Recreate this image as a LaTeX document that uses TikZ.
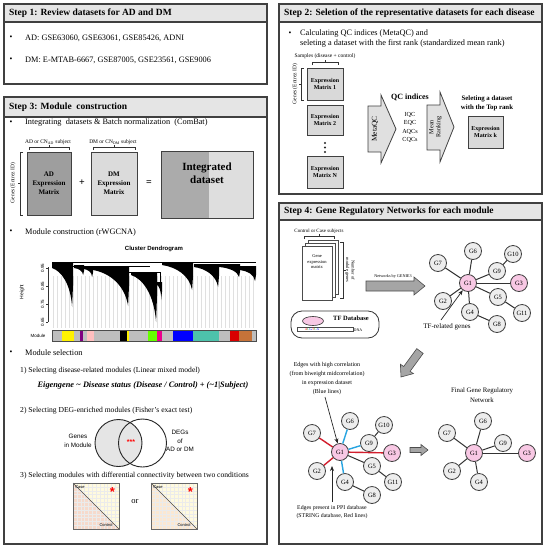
\documentclass[tikz,border=0pt]{standalone}
\usepackage{fontspec}
\setmainfont{Liberation Serif}
\setsansfont{Liberation Sans}
\usetikzlibrary{arrows.meta,calc}
\definecolor{tfpink}{RGB}{248,200,228}
\definecolor{eblue}{RGB}{40,165,225}
\definecolor{ered}{RGB}{210,30,45}
\definecolor{arrgrey}{RGB}{165,165,165}
\definecolor{hmcream}{RGB}{255,250,222}
\definecolor{hmpink}{RGB}{246,218,204}
\definecolor{hmpeach}{RGB}{251,232,210}
\definecolor{dgrey}{RGB}{190,190,190}
\begin{document}
\begin{tikzpicture}[x=1pt,y=-1pt,
 panel/.style={draw=black!75,line width=1.1pt},
 tbar/.style={draw=black!75,line width=1.1pt,fill=black!10},
 ttl/.style={anchor=west,font=\fontsize{9.5}{11}\selectfont\bfseries,inner sep=0pt},
 txt/.style={anchor=west,font=\fontsize{8.3}{10}\selectfont,inner sep=0pt},
 bul/.style={font=\fontsize{8}{10}\selectfont,inner sep=0pt},
 small/.style={font=\fontsize{5.5}{6.5}\selectfont,inner sep=0pt,align=center},
 tiny/.style={font=\fontsize{4.5}{5.5}\selectfont,inner sep=0pt,align=center},
 mat/.style={draw=black!75,line width=0.8pt,fill=black!15,align=center,font=\fontsize{6}{6.5}\selectfont\bfseries,inner sep=0pt},
 gn/.style={circle,draw=black!75,fill=black!7,line width=0.8pt,minimum size=17pt,inner sep=0pt,font=\fontsize{6.5}{7}\selectfont},
 tf/.style={gn,fill=tfpink},
 ed/.style={draw=black!80,line width=1pt},
 edr/.style={draw=ered,line width=1.4pt},
 edb/.style={draw=eblue,line width=1.4pt},
 blk/.style={fill=arrgrey,draw=black!70,line width=0.6pt},
 bigarrow/.style={fill=black!12,draw=black!75,line width=0.8pt},
 brk/.style={draw=black!80,line width=0.5pt},
 ptr/.style={draw=black!85,line width=0.7pt,-{Stealth[length=5pt,width=4pt]}},
]
\useasboundingbox (0,0) rectangle (547,550);
\fill[white] (0,0) rectangle (547,550);

% ================= Step 1 =================
\draw[panel] (4,4) rectangle (267,84);
\draw[tbar] (4,4) rectangle (267,22);
\node[ttl] (t1) at (9,13.5) {Step 1: Review datasets for AD and DM};
\node[bul] (b1a) at (11,38) {\textbullet};
\node[txt] (s1a) at (25,38) {AD: GSE63060, GSE63061, GSE85426, ADNI};
\node[bul] (b1b) at (11,60) {\textbullet};
\node[txt] (s1b) at (25,60) {DM: E-MTAB-6667, GSE87005, GSE23561, GSE9006};

% ================= Step 2 =================
\draw[panel] (279,4) rectangle (542,194);
\draw[tbar] (279,4) rectangle (542,22);
\node[ttl] (t2) at (284,13.5) {Step 2: Seletion of the representative datasets for each disease};
\node[bul] (b2a) at (290,34) {\textbullet};
\node[txt] (s2a) at (300,34) {Calculating QC indices (MetaQC) and};
\node[txt] (s2b) at (300,43) {seleting a dataset with the first rank (standardized mean rank)};
\node[small] (smp) at (325,56) {Samples (disease + control)};
\draw[brk] (312,65) -- (312,62) -- (338,62) -- (338,65);
\draw[brk] (325,62) -- (325,59.5);
\node[small,rotate=90] (gen2) at (295,84) {Genes (Entrez ID)};
\draw[brk] (304,68) -- (301,68) -- (301,100) -- (304,100);
\draw[brk] (301,84) -- (298.5,84);
\node[mat,minimum width=36pt,minimum height=32pt] (m1) at (325,84) {Expression\\Matrix 1};
\node[mat,minimum width=36pt,minimum height=30pt] (m2) at (325,120) {Expression\\Matrix 2};
\foreach \dy in {143,147.5,152}{
  \fill[black!85] (325,\dy) circle[radius=1.2pt];
}
\node[mat,minimum width=36pt,minimum height=32pt] (mn) at (325,172) {Expression\\Matrix N};
% MetaQC arrow
\draw[bigarrow] (368,106) -- (381,106) -- (381,95) -- (396,129) -- (381,163) -- (381,152) -- (368,152) -- cycle;
\node[rotate=90,font=\fontsize{7.5}{8}\selectfont,inner sep=0pt] (mqc) at (375,129) {MetaQC};
\node[font=\fontsize{8}{9}\selectfont\bfseries,inner sep=0pt] (qci) at (410,97) {QC indices};
\node[font=\fontsize{6.2}{8.4}\selectfont,align=center,inner sep=0pt] (qcl) at (410,127.5) {IQC\\EQC\\AQCs\\CQCs};
% Mean ranking arrow
\draw[bigarrow] (427,105) -- (440,105) -- (440,92) -- (454,127) -- (440,162) -- (440,150) -- (427,150) -- cycle;
\node[rotate=90,font=\fontsize{6.2}{7}\selectfont,align=center,inner sep=0pt] (mrk) at (435.5,127) {Mean\\Ranking};
\node[font=\fontsize{6.8}{9}\selectfont\bfseries,align=center,inner sep=0pt] (sel) at (487,103.5) {Seleting a dataset\\with the Top rank};
\node[mat,minimum width=35pt,minimum height=32pt] (mk) at (485.5,132) {Expression\\Matrix k};

% ================= Step 3 =================
\draw[panel] (4,97) rectangle (267,544);
\draw[tbar] (4,97) rectangle (267,117);
\node[ttl] (t3) at (9,107) {Step 3: Module\ \ construction};
\node[bul] (b3a) at (11,122.5) {\textbullet};
\node[txt] (s3a) at (25,122.5) {Integrating\ \ datasets \& Batch normalization\ \ (ComBat)};
\node[small] (adsub) at (48,142) {AD or CN$_{\mathrm{AD}}$ subject};
\node[small] (dmsub) at (113,142) {DM or CN$_{\mathrm{DM}}$ subject};
\draw[brk] (29,150) -- (29,147) -- (69,147) -- (69,150);
\draw[brk] (49,147) -- (49,144.5);
\draw[brk] (93,150) -- (93,147) -- (135,147) -- (135,150);
\draw[brk] (114,147) -- (114,144.5);
\node[small,rotate=90] (gen3) at (13,183) {Genes (Entrez ID)};
\draw[brk] (23,152) -- (20,152) -- (20,215) -- (23,215);
\draw[brk] (20,183) -- (17.5,183);
\node[mat,fill=black!38,minimum width=44pt,minimum height=63pt,font=\fontsize{7}{9}\selectfont\bfseries] (adm) at (49,183.5) {AD\\Expression\\Matrix};
\node[mat,fill=black!14,minimum width=46pt,minimum height=63pt,font=\fontsize{7}{9}\selectfont\bfseries] (dmm) at (114,183.5) {DM\\Expression\\Matrix};
\node[font=\fontsize{10}{10}\selectfont\bfseries,inner sep=0pt] (plus) at (82,183) {+};
\node[font=\fontsize{10}{10}\selectfont\bfseries,inner sep=0pt] (eq) at (149,183) {=};
\fill[black!33] (161,151) rectangle (209,218);
\fill[black!13] (209,151) rectangle (253,218);
\draw[draw=black!75,line width=0.8pt] (161,151) rectangle (253,218);
\node[font=\fontsize{11}{12.5}\selectfont\bfseries,align=center,inner sep=0pt] (intd) at (207,173) {Integrated\\dataset};

\node[bul] (b3b) at (11,232) {\textbullet};
\node[txt] (s3b) at (25,232) {Module construction (rWGCNA)};
\node[font=\sffamily\bfseries\fontsize{6}{7}\selectfont,inner sep=0pt] (cdt) at (154,249) {Cluster Dendrogram};
% axis
\draw[black!80,line width=0.4pt] (48,267) -- (48,322);
\foreach \ty/\lab in {268/0.95,286/0.85,304/0.75,322/0.65}{
  \draw[black!80,line width=0.4pt] (48,\ty) -- (46,\ty);
  \node[rotate=90,font=\sffamily\fontsize{4.5}{5}\selectfont,inner sep=0pt] at (42.5,\ty) {\lab};
}
\node[rotate=90,font=\sffamily\fontsize{5}{5}\selectfont,inner sep=0pt] (hgt) at (22,292) {Height};
% faint leaf lines (translucent strips)
\begin{scope}[opacity=0.12]
\foreach \k in {0,...,50}{
  \fill[black] ({53+\k*4},276) rectangle ({53.8+\k*4},328);
}
\end{scope}
% dendrogram clusters
\draw[line width=0.5pt] (52,262) -- (256,262);
\foreach \xa/\xb/\yt/\ya/\yb in {52/73/263/268/307, 74/84/265/268/275, 84/93/266/269/277, 93/129/266/270/306, 131/157/272/275/322, 157/162/282/285/300, 162/193/262/265/290, 194/219/264/267/287, 219/240/264/267/277, 240/256/266/270/281}{
  \pgfmathsetmacro\ww{\xb-\xa}
  \pgfmathsetmacro\hh{\yb-\ya}
  \fill[black] (\xa,\yt) -- (\xb,\yt) -- (\xb,{\ya+0.45*\hh}) -- ({\xb-0.9},\yb)
     .. controls ({\xb-0.12*\ww},{\ya+0.4*\hh}) and ({\xa+0.45*\ww},{\ya+0.08*\hh}) .. (\xa,\ya) -- cycle;
  \draw[line width=0.5pt] (\xa,\yt) -- (\xb,\yt);
}
\draw[line width=0.5pt] (60,266) -- (150,266);
\draw[line width=0.5pt] (128,272) -- (160,272) -- (160,282);
% module colour bar
\node[font=\sffamily\fontsize{4.5}{5}\selectfont,inner sep=0pt] (modl) at (38,336) {Module};
\fill[dgrey] (52,330) rectangle (256,341);
\foreach \xa/\xb/\cc in {62/74/yellow, 80/83/violet, 87/94/pink, 120/127/black, 127/129/yellow, 148/157/green!60!yellow, 157/162/magenta, 173/193/blue, 193/219/cyan!45!green!70!white, 230/239/red!85!black, 239/252/brown!90!red}{
  \fill[\cc] (\xa,330) rectangle (\xb,341);
}
\draw[black!70,line width=0.3pt] (52,330) rectangle (256,341);

\node[bul] (b3c) at (11,353) {\textbullet};
\node[txt] (s3c) at (25,353) {Module selection};
\node[txt,font=\fontsize{7.6}{9}\selectfont] (s3d) at (20,371) {1) Selecting disease-related modules (Linear mixed model)};
\node[font=\fontsize{8.3}{10}\selectfont\bfseries\itshape,inner sep=0pt] (eqn) at (143,386) {Eigengene \textasciitilde{} Disease status (Disease / Control) + (\textasciitilde{}1|Subject)};
\node[txt,font=\fontsize{7.6}{9}\selectfont] (s3e) at (20,411) {2) Selecting DEG-enriched modules (Fisher's exact test)};
% Venn
\draw[fill=black!10,draw=black!85,line width=0.9pt] (118.5,443) circle[radius=23.5pt];
\draw[draw=black!85,line width=0.9pt] (142.5,443) circle[radius=24pt];
\node[font=\sffamily\bfseries\fontsize{7}{7}\selectfont,text=red,inner sep=0pt] (stars) at (131,442) {***};
\node[font=\sffamily\fontsize{6.3}{8.8}\selectfont,align=center,inner sep=0pt] (gim) at (78,440.5) {Genes\\in Module};
\node[font=\sffamily\fontsize{6.3}{8.8}\selectfont,align=center,inner sep=0pt] (degs) at (180,441) {DEGs\\of\\AD or DM};
\node[txt,font=\fontsize{7.6}{9}\selectfont] (s3f) at (20,476) {3) Selecting modules with differential connectivity between two conditions};
% heatmaps
\foreach \hx/\lc/\nm in {73/hmpink/hl, 151/hmpeach/hr}{
  \fill[hmcream] (\hx,483) rectangle ++(46,46);
  \fill[\lc] (\hx,483) -- (\hx,529) -- ({\hx+46},529) -- cycle;
  \foreach \g in {1,...,11}{
    \draw[black!8,line width=0.2pt] ({\hx+\g*3.83},483) -- ({\hx+\g*3.83},529);
    \draw[black!8,line width=0.2pt] (\hx,{483+\g*3.83}) -- ({\hx+46},{483+\g*3.83});
  }
  \draw[black!70,line width=0.6pt] (\hx,483) -- ({\hx+46},529);
  \draw[black!60,line width=0.5pt] (\hx,483) rectangle ++(46,46);
  \node[font=\sffamily\fontsize{4}{4}\selectfont,inner sep=0pt] at ({\hx+7},487) {Case};
  \node[font=\sffamily\fontsize{4}{4}\selectfont,inner sep=0pt] at ({\hx+33},525) {Control};
  \node[font=\sffamily\bfseries\fontsize{13}{13}\selectfont,text=red,inner sep=0pt] at ({\hx+39.5},492.5) {*};
}
\node[font=\fontsize{8.5}{9}\selectfont,inner sep=0pt] (or) at (135,502) {or};

% ================= Step 4 =================
\draw[panel] (279,203) rectangle (542,544);
\draw[tbar] (279,203) rectangle (542,220);
\node[ttl] (t4) at (284,211.5) {Step 4: Gene Regulatory Networks for each module};
\node[tiny,font=\fontsize{5}{6}\selectfont] (ccs) at (319,231) {Control or Case subjects};
\draw[brk] (304,239) -- (304,236) -- (334,236) -- (334,239);
\draw[brk] (319,236) -- (319,234);
\draw[black!70,line width=0.5pt,fill=white] (308,240) rectangle (338,294);
\draw[black!70,line width=0.5pt,fill=white] (305,243) rectangle (335,297);
\draw[black!70,line width=0.5pt,fill=white] (302,246) rectangle (332,300);
\node[tiny] (gem) at (317,262) {Gene\\expression\\matrix};
\draw[brk] (340,242) -- (343,242) -- (343,298) -- (340,298);
\draw[brk] (343,270) -- (345.5,270);
\node[tiny,rotate=-90,align=center] (nmg) at (350,270) {Number of\\module genes};
% GENIE3 arrow
\draw[blk] (366,281) -- (414,281) -- (414,277) -- (425,286) -- (414,295) -- (414,291) -- (366,291) -- cycle;
\node[tiny,font=\fontsize{4.2}{5}\selectfont] (gen3a) at (393,276) {Networks by GENIE3};
% TF database
\draw[black!80,line width=0.8pt,rounded corners=11pt] (291,311) rectangle (379,338);
\draw[black!80,line width=0.6pt,fill=tfpink] (313,321) ellipse[x radius=10.5pt,y radius=4.5pt];
\node[font=\fontsize{6.5}{7}\selectfont\bfseries,inner sep=0pt] (tfd) at (351,318) {TF Database};
\draw[black!70,line width=0.4pt] (297,327) rectangle (353,331.5);
\node[font=\fontsize{3.5}{4}\selectfont,inner sep=0pt] (acgt) at (312,329.3) {\textcolor{red}{A}\textcolor{green!60!black}{C}\textcolor{blue}{G}\textcolor{red}{T}\textcolor{green!60!black}{C}\textcolor{blue}{A}};
\node[font=\fontsize{4}{4}\selectfont,inner sep=0pt] (dna) at (358,330) {DNA};

% network 1
\node[tf] (a1) at (468,283) {G1};
\node[tf] (a3) at (519,283) {G3};
\node[gn] (a2) at (443,301) {G2};
\node[gn] (a4) at (470,312) {G4};
\node[gn] (a5) at (498,297) {G5};
\node[gn] (a11) at (522,313) {G11};
\node[gn] (a8) at (497,324) {G8};
\node[gn] (a9) at (497,271) {G9};
\node[gn] (a6) at (473,251) {G6};
\node[gn] (a10) at (513,254) {G10};
\node[gn] (a7) at (438,263) {G7};
\foreach \u/\v in {a1/a7,a1/a6,a1/a9,a1/a3,a1/a5,a1/a2,a1/a4,a9/a10,a5/a11,a4/a8}{
  \path[ed] (\u) -- (\v);
}
\node[font=\fontsize{7}{8}\selectfont,inner sep=0pt] (tfrg) at (447,327) {TF-related genes};
\coordinate (tfs) at (441,320);
\draw[ptr] (tfs) -- (a1);
% big diagonal arrow
\draw[blk] (416.8,348.6) -- (403.7,366.5) -- (400.4,364.2) -- (401,377) -- (413.4,373.6) -- (410.1,371.3) -- (423.2,353.4) -- cycle;
\node[font=\fontsize{6.8}{9.5}\selectfont,align=center,inner sep=0pt] (fgrn) at (482,395) {Final Gene Regulatory\\Network};
\node[font=\fontsize{6}{8.8}\selectfont,align=center,inner sep=0pt] (ehc) at (327,378.5) {Edges with high correlation\\(from biweight midcorrelation)\\in expression dataset\\(Blue lines)};

% network 2
\node[tf] (c1) at (340,452) {G1};
\node[tf] (c3) at (392,453) {G3};
\node[gn] (c6) at (350,421) {G6};
\node[gn] (c10) at (384,425) {G10};
\node[gn] (c7) at (312,433) {G7};
\node[gn] (c9) at (369,443) {G9};
\node[gn] (c2) at (317,471) {G2};
\node[gn] (c5) at (372,466) {G5};
\node[gn] (c11) at (393,482) {G11};
\node[gn] (c4) at (345,482) {G4};
\node[gn] (c8) at (372,495) {G8};
\path[edr] (c1) -- (c7);
\path[edr] (c1) -- (c3);
\path[edr] (c1) -- (c2);
\path[edb] (c1) -- (c6);
\path[edb] (c1) -- (c9);
\path[edb] (c1) -- (c4);
\foreach \u/\v in {c1/c5,c9/c10,c5/c11,c4/c8}{
  \path[ed] (\u) -- (\v);
}
\coordinate (ehs) at (325,397);
\draw[ptr] (ehs) -- (c1);
\node[font=\fontsize{5.8}{8}\selectfont,align=center,inner sep=0pt] (eppi) at (332,512) {Edges present in PPI database\\(STRING database, Red lines)};
\coordinate (eps) at (332,502);
\coordinate (ept) at (332,466);
\draw[ptr] (eps) -- (ept);
% small arrow
\draw[blk] (410,447.5) -- (421,447.5) -- (421,444.5) -- (428,450) -- (421,455.5) -- (421,452.5) -- (410,452.5) -- cycle;

% network 3
\node[tf] (d1) at (474,453) {G1};
\node[tf] (d3) at (527,453) {G3};
\node[gn] (d6) at (483,421) {G6};
\node[gn] (d7) at (447,433) {G7};
\node[gn] (d9) at (503,443) {G9};
\node[gn] (d2) at (452,471) {G2};
\node[gn] (d4) at (479,482) {G4};
\foreach \v in {d6,d7,d9,d3,d2,d4}{
  \path[ed] (d1) -- (\v);
}
\end{tikzpicture}
\end{document}
